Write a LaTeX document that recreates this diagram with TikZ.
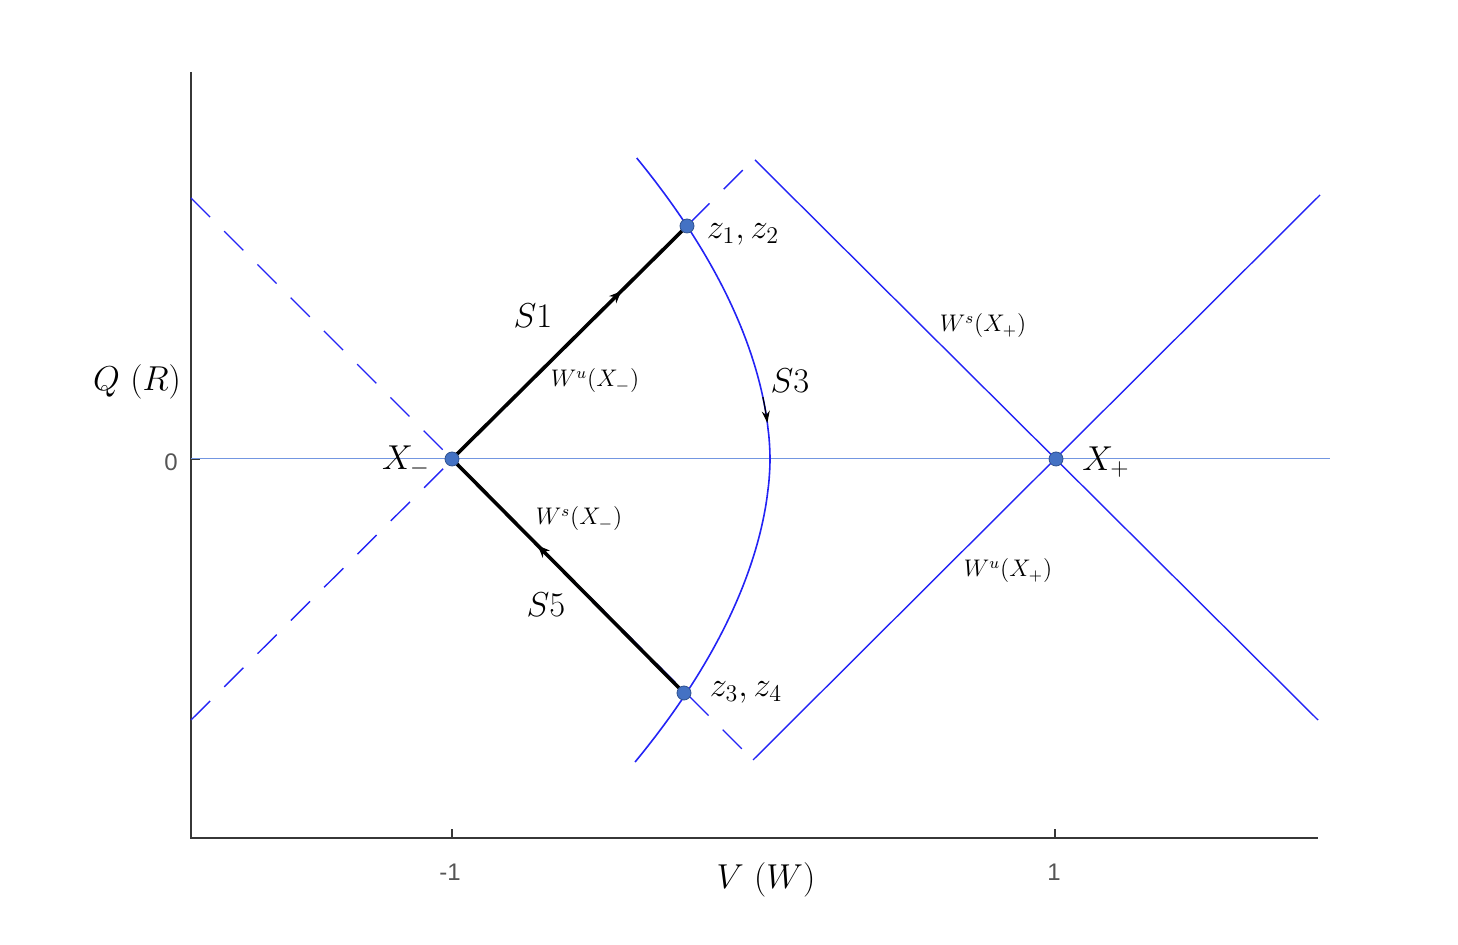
\documentclass[tikz,border=0pt]{standalone}
\usepackage{fontspec}
\newfontfamily\ticksfont{Liberation Sans}
\usetikzlibrary{arrows.meta,decorations.markings}
\definecolor{mblue}{RGB}{35,35,245}
\definecolor{hblue}{RGB}{115,150,225}
\definecolor{dotfill}{RGB}{68,114,196}
\definecolor{dotedge}{RGB}{47,82,143}
\definecolor{axisgray}{RGB}{55,55,55}
\definecolor{tickgray}{RGB}{85,85,85}
\tikzset{
  axisline/.style={axisgray, line width=1pt},
  hline/.style={hblue, line width=0.5pt},
  manifold/.style={mblue, line width=0.7pt},
  dashedmanifold/.style={mblue, line width=0.7pt, dash pattern=on 13.5pt off 10pt},
  curveS/.style={mblue, line width=0.8pt},
  orbit/.style={black, line width=1.8pt},
  pt/.style={circle, fill=dotfill, draw=dotedge, line width=0.4pt, inner sep=0pt, minimum size=7pt},
  biglbl/.style={font=\fontsize{17}{20}\selectfont, inner sep=0pt},
  smalllbl/.style={font=\fontsize{11.5}{14}\selectfont, inner sep=0pt},
  ticklbl/.style={font=\ticksfont\fontsize{12}{14}\selectfont, text=tickgray, inner sep=0pt},
}
\begin{document}
\begin{tikzpicture}[x=0.5pt,y=-0.5pt]
\useasboundingbox (0,0) rectangle (1458,945);
% key coordinates
\coordinate (Xm) at (452,459);
\coordinate (Xp) at (1056,459);
\coordinate (z1) at (687,226);
\coordinate (z3) at (684,693);
\coordinate (oy) at (191,72);
\coordinate (o) at (191,838);
\coordinate (ox) at (1318,838);
% axes
\draw[axisline] (oy) -- (o) -- (ox);
\draw[axisline] (452,838) -- (452,829);
\draw[axisline] (1055,838) -- (1055,829);
\draw[axisline] (191,459) -- (200,459);
\node[ticklbl] (tm1) at (450,872) {-1};
\node[ticklbl] (tp1) at (1054,872) {1};
\node[ticklbl] (t0) at (171,462) {0};
% horizontal line
\coordinate (hl) at (191,459);
\coordinate (hr) at (1330,459);
\draw[hline] (hl) -- (hr);
% dashed manifolds through X-
\coordinate (d1a) at (191,198);
\coordinate (d1b) at (745,752);
\coordinate (d2a) at (191,720);
\coordinate (d2b) at (745,168);
\draw[dashedmanifold] (d1a) -- (d1b);
\draw[dashedmanifold] (d2a) -- (d2b);
% solid manifolds through X+
\coordinate (s1a) at (755,160);
\coordinate (s1b) at (1318,720);
\coordinate (s2a) at (753,760);
\coordinate (s2b) at (1320,195);
\draw[manifold] (s1a) -- (s1b);
\draw[manifold] (s2a) -- (s2b);
% curve S3
\draw[curveS] plot[domain=-301:303, samples=121, smooth] ({770-83*pow((abs(\x)+0.01)/233,1.85)},{459+\x});
\draw[black, line width=0.6pt, -{Stealth[length=6pt,width=4pt]}] plot[domain=-62:-36, samples=8, smooth] ({770-83*pow((abs(\x)+0.01)/233,1.85)},{459+\x});
% orbits S1 and S5
\draw[orbit, postaction=decorate, decoration={markings, mark=at position 0.72 with {\arrow{Stealth[length=6pt,width=5pt]}}}] (Xm) -- (z1);
\draw[orbit, postaction=decorate, decoration={markings, mark=at position 0.63 with {\arrow{Stealth[length=6pt,width=5pt]}}}] (z3) -- (Xm);
% points
\node[pt] (pXm) at (Xm) {};
\node[pt] (pXp) at (Xp) {};
\node[pt] (pz1) at (z1) {};
\node[pt] (pz3) at (z3) {};
% labels
\node[biglbl] (lz12) at (743,234) {$z_1,z_2$};
\node[biglbl] (lz34) at (746,692) {$z_3,z_4$};
\node[biglbl] (lS1) at (533,316) {$S1$};
\node[biglbl] (lS3) at (790,381) {$S3$};
\node[biglbl] (lS5) at (546,605) {$S5$};
\node[biglbl] (lXm) at (406,461) {$X_-$};
\node[biglbl] (lXp) at (1106,462) {$X_+$};
\node[biglbl] (lQ) at (137,382) {$Q\ (R)$};
\node[biglbl] (lV) at (766,880) {$V\ (W)$};
\node[smalllbl] (lWuXm) at (595,381) {$W^{u}(X_{-})$};
\node[smalllbl] (lWsXm) at (579,519) {$W^{s}(X_{-})$};
\node[smalllbl] (lWsXp) at (983,326) {$W^{s}(X_{+})$};
\node[smalllbl] (lWuXp) at (1008,571) {$W^{u}(X_{+})$};
\end{tikzpicture}
\end{document}
